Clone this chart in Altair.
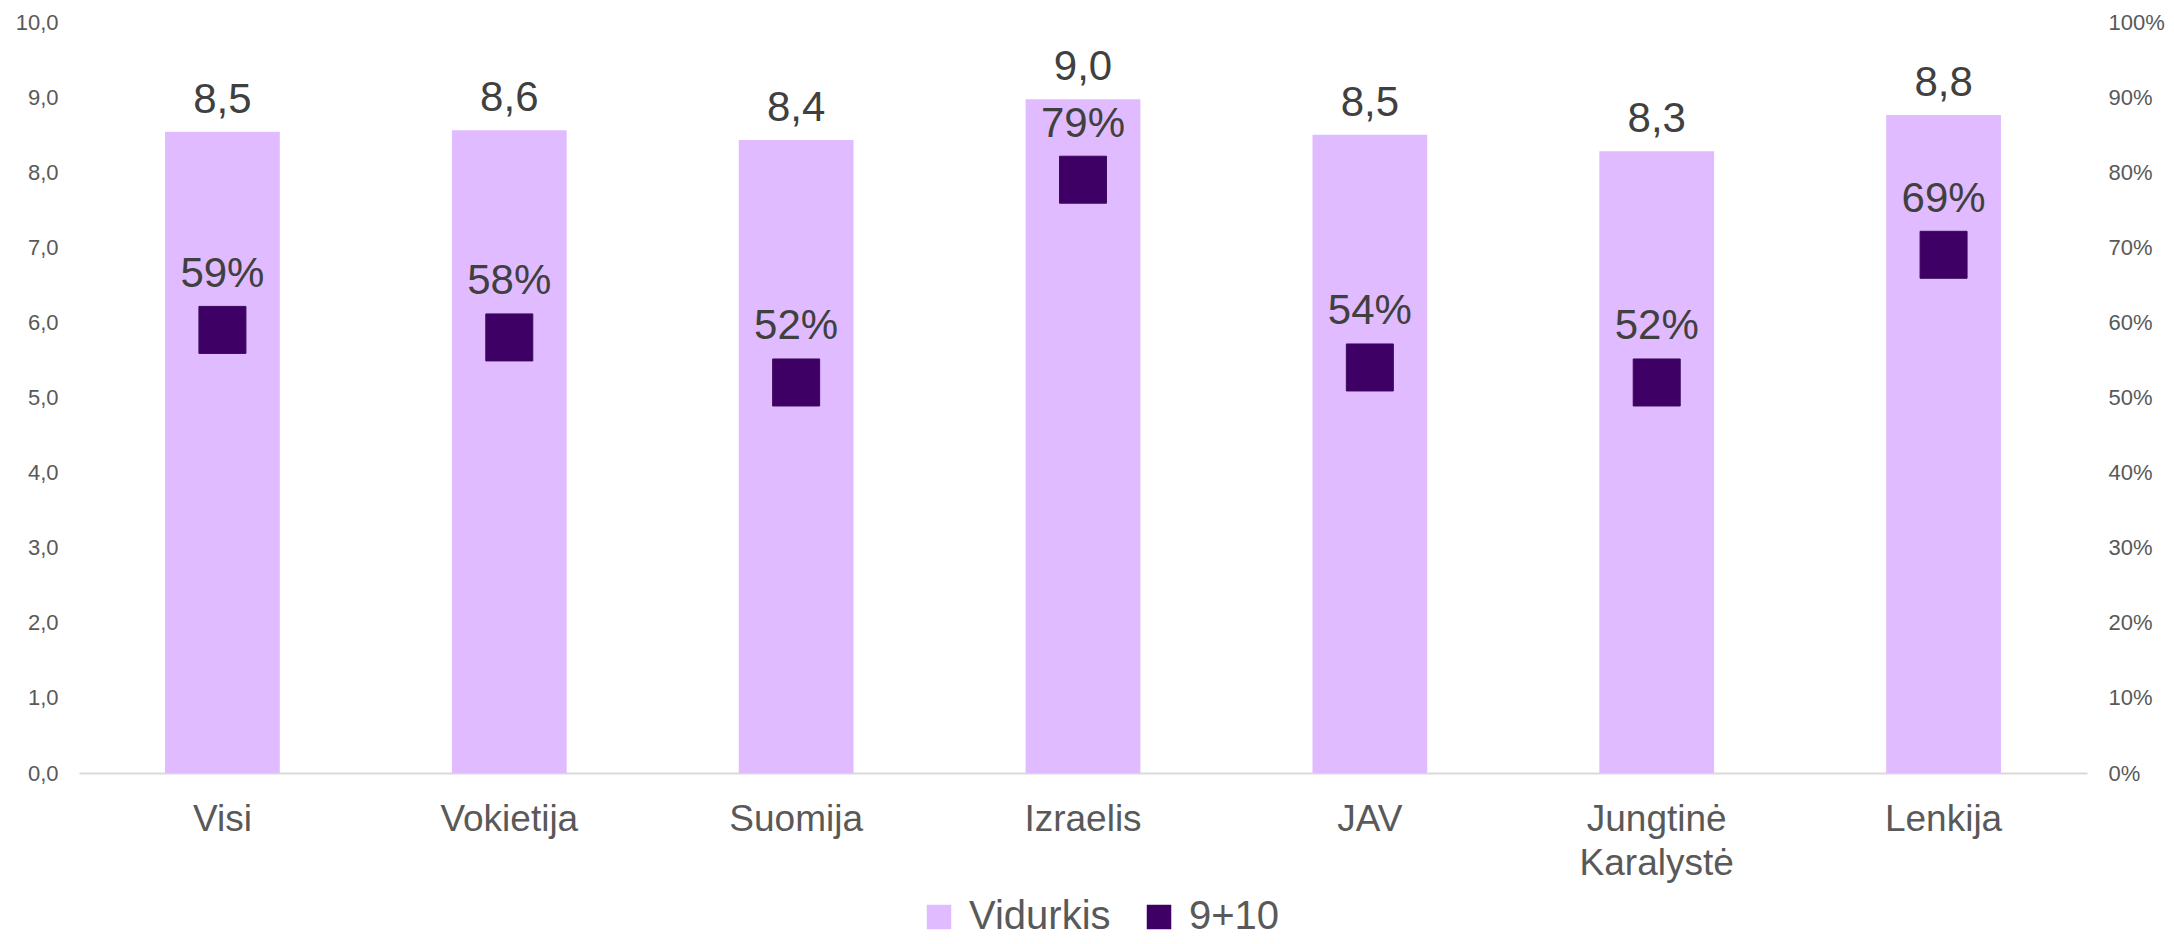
import altair as alt
import pandas as pd

categories = ["Visi", "Vokietija", "Suomija", "Izraelis", "JAV", "Jungtinė Karalystė", "Lenkija"]
vidurkis = [8.54, 8.56, 8.43, 8.97, 8.50, 8.28, 8.76]
top2 = [0.59, 0.58, 0.52, 0.79, 0.54, 0.52, 0.69]
series_names = ["Vidurkis", "9+10"]
left_ticks = list(range(0, 11))
right_ticks = [i / 10 for i in range(11)]

BAR_COLOR = "#E0BBFF"
SQ_COLOR = "#3F0066"
FONT = "Liberation Sans"

df = pd.DataFrame({"cat": categories, "avg": vidurkis, "pct": top2})

color_scale = alt.Scale(domain=series_names, range=[BAR_COLOR, SQ_COLOR])
legend = alt.Legend(
    title=None, orient="none", legendX=840, legendY=875, direction="horizontal",
    symbolType="square", symbolSize=600, symbolStrokeWidth=0, symbolOpacity=1,
    labelFontSize=40, labelFont=FONT, labelColor="#595959", labelOffset=10,
    columnPadding=28, padding=0,
)

x = alt.X(
    "cat:N", sort=categories, title=None,
    scale=alt.Scale(paddingInner=0.6, paddingOuter=0.3),
    axis=alt.Axis(
        labelAngle=0, labelFontSize=37, labelFont=FONT, labelColor="#595959",
        labelPadding=28, ticks=False, tickSize=0, domainColor="#D9D9D9", domainWidth=2,
        labelLineHeight=44, labelExpr="split(datum.label, ' ')", grid=False,
    ),
)

y_left = alt.Y(
    "avg:Q", title=None, scale=alt.Scale(domain=[0, 10], nice=False),
    axis=alt.Axis(
        values=left_ticks, labelExpr="replace(format(datum.value, '.1f'), '.', ',')",
        labelFontSize=22, labelFont=FONT, labelColor="#595959", labelPadding=21,
        ticks=False, tickSize=0, domain=False, grid=False,
    ),
)
y_right = alt.Y(
    "pct:Q", title=None, scale=alt.Scale(domain=[0, 1], nice=False),
    axis=alt.Axis(
        orient="right", values=right_ticks, format=".0%",
        labelFontSize=22, labelFont=FONT, labelColor="#595959", labelPadding=21,
        ticks=False, tickSize=0, domain=False, grid=False,
    ),
)

color = alt.Color("series:N", scale=color_scale, legend=legend, sort=series_names)

base = alt.Chart(df)

bars = base.transform_calculate(series="'Vidurkis'").mark_bar().encode(
    x=x, y=y_left, color=color,
)
bar_labels = base.transform_calculate(
    lbl="replace(format(datum.avg, '.1f'), '.', ',')"
).mark_text(fontSize=42, font=FONT, color="#404040", baseline="alphabetic", dy=-19).encode(
    x=x, y=y_left, text="lbl:N",
)

squares = base.transform_calculate(series="'9+10'").mark_square(
    size=2209, opacity=1, stroke="#3a0a5c", strokeWidth=1
).encode(
    x=x, y=y_right, color=color,
)
sq_labels = base.transform_calculate(
    lbl="format(datum.pct, '.0%')"
).mark_text(fontSize=42, font=FONT, color="#404040", baseline="alphabetic", dy=-43).encode(
    x=x, y=y_right, text="lbl:N",
)

chart = alt.layer(
    alt.layer(bars, bar_labels),
    alt.layer(squares, sq_labels),
).resolve_scale(y="independent").properties(
    width=2008, height=751,
    padding={"left": 71, "top": 14, "right": 79, "bottom": 163},
    autosize=alt.AutoSizeParams(type="none"),
).configure_view(stroke=None)

chart.save("out.html", embed_options={"renderer": "svg", "actions": False})
